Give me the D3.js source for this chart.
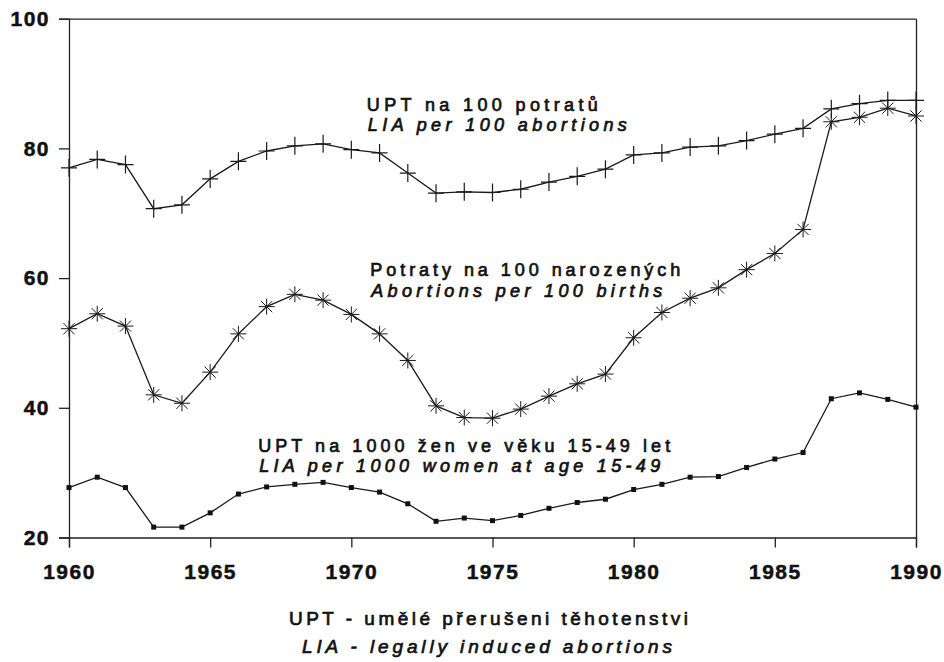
<!DOCTYPE html>
<html>
<head>
<meta charset="utf-8">
<script src="https://cdn.jsdelivr.net/npm/d3@7"></script>
<style>
  body { margin: 0; background: #fff; }
  svg { display: block; }
  text { font-family: "Liberation Sans", Arial, sans-serif; fill: #111; }
  .tick text { font-size: 21px; font-weight: bold; letter-spacing: 1.5px; stroke: #111; stroke-width: 0.5; }
  .domain, .tick line { stroke: #222; stroke-width: 1.3; }
  .series { fill: none; stroke: #1a1a1a; stroke-width: 1.3; }
  .note { font-size: 18px; stroke: #111; stroke-width: 0.7; }
</style>
</head>
<body>
<div id="chart"></div>
<script>
var years = [1960, 1961, 1962, 1963, 1964, 1965, 1966, 1967, 1968, 1969,
             1970, 1971, 1972, 1973, 1974, 1975, 1976, 1977, 1978, 1979,
             1980, 1981, 1982, 1983, 1984, 1985, 1986, 1987, 1988, 1989, 1990];

// UPT na 100 potratu
var liaPerAbortions = [77.0, 78.3, 77.5, 70.7, 71.3, 75.3, 78.0, 79.6, 80.4, 80.7,
                       79.8, 79.3, 76.2, 73.1, 73.3, 73.2, 73.7, 74.8, 75.7, 76.8,
                       79.0, 79.3, 80.2, 80.4, 81.2, 82.2, 83.1, 86.1, 86.9, 87.4, 87.4];

// potraty na 100 narozenych
var abortionsPerBirths = [52.2, 54.5, 52.6, 42.0, 40.7, 45.5, 51.4, 55.6, 57.5, 56.6,
                          54.4, 51.4, 47.3, 40.3, 38.5, 38.4, 39.8, 41.8, 43.7, 45.2,
                          50.8, 54.7, 56.9, 58.5, 61.3, 63.8, 67.5, 84.1, 84.8, 86.2, 85.0];

// UPT na 1000 zen 15-49
var liaPerWomen = [27.7, 29.3, 27.7, 21.6, 21.6, 23.8, 26.7, 27.8, 28.2, 28.5,
                   27.7, 27.0, 25.2, 22.5, 23.0, 22.6, 23.4, 24.5, 25.4, 25.9,
                   27.4, 28.2, 29.3, 29.4, 30.8, 32.1, 33.1, 41.4, 42.3, 41.3, 40.1];

var xTicks = [1960, 1965, 1970, 1975, 1980, 1985, 1990];
var yTicks = [20, 40, 60, 80, 100];

var labelsCz = ["UPT na 100 potratů", "Potraty na 100 narozených", "UPT na 1000 žen ve věku 15-49 let"];
var labelsEn = ["LIA per 100 abortions", "Abortions per 100 births", "LIA per 1000 women at age 15-49"];
var notes = ["UPT - umělé přerušeni těhotenstvi", "LIA - legally induced abortions"];

var margin = {top: 18.7, right: 28, bottom: 124.5, left: 69};
var W = 944, H = 662;
var width = W - margin.left - margin.right;
var height = H - margin.top - margin.bottom;

var svg = d3.select('#chart').append('svg')
  .attr('width', W)
  .attr('height', H);

var g = svg.append('g')
  .attr('transform', 'translate(' + margin.left + ',' + margin.top + ')');

var x = d3.scaleLinear().domain([1960, 1990]).range([0, width]);
var y = d3.scaleLinear().domain([20, 100]).range([height, 0]);

// frame
g.append('g')
  .attr('transform', 'translate(0,' + height + ')')
  .call(d3.axisBottom(x).tickValues(xTicks).tickFormat(d3.format('d')).tickSize(10).tickPadding(17));
g.append('g')
  .call(d3.axisLeft(y).tickValues(yTicks).tickSize(10).tickPadding(9));
g.append('g')
  .call(d3.axisTop(x).tickValues([]).tickSizeOuter(0));
g.append('g')
  .attr('transform', 'translate(' + width + ',0)')
  .call(d3.axisRight(y).tickValues([]).tickSizeOuter(0));

var line = d3.line()
  .x((d, i) => x(years[i]))
  .y((d) => y(d));

// plus markers
g.append('path').attr('class', 'series').attr('d', line(liaPerAbortions));
g.append('g').selectAll('path')
  .data(liaPerAbortions)
  .enter().append('path')
    .attr('class', 'series')
    .attr('transform', (d, i) => 'translate(' + x(years[i]) + ',' + y(d) + ')')
    .attr('d', 'M-8,0H8M0,-9V9')
    .style('stroke-width', 1.2);

// asterisk markers
g.append('path').attr('class', 'series').attr('d', line(abortionsPerBirths));
g.append('g').selectAll('path')
  .data(abortionsPerBirths)
  .enter().append('path')
    .attr('class', 'series')
    .attr('transform', (d, i) => 'translate(' + x(years[i]) + ',' + y(d) + ')')
    .attr('d', 'M-8,0H8M0,-8V8M-5.6,-5.6L5.6,5.6M-5.6,5.6L5.6,-5.6')
    .style('stroke-width', 1);

// square markers
g.append('path').attr('class', 'series').attr('d', line(liaPerWomen));
g.append('g').selectAll('rect')
  .data(liaPerWomen)
  .enter().append('rect')
    .attr('x', (d, i) => x(years[i]) - 2.5)
    .attr('y', (d) => y(d) - 2.5)
    .attr('width', 5)
    .attr('height', 5)
    .style('fill', '#111');

// series labels, anchored in data units
var anchors = [
  {year: 1970.55, cz: 85.8, en: 82.7, w1: 231, w2: 259},
  {year: 1970.67, cz: 60.3, en: 57.1, w1: 310, w2: 291},
  {year: 1966.7,  cz: 33.2, en: 30.05, w1: 412, w2: 401}
];

anchors.forEach((a, i) => {
  g.append('text')
    .attr('class', 'note')
    .attr('x', x(a.year))
    .attr('y', y(a.cz))
    .attr('textLength', a.w1)
    .attr('lengthAdjust', 'spacing')
    .text(labelsCz[i]);
  g.append('text')
    .attr('class', 'note')
    .attr('x', x(a.year) + 1)
    .attr('y', y(a.en))
    .attr('textLength', a.w2)
    .attr('lengthAdjust', 'spacing')
    .style('font-style', 'italic')
    .text(labelsEn[i]);
});

// footnote
svg.append('text')
  .attr('class', 'note')
  .attr('x', 289)
  .attr('y', 625)
  .attr('textLength', 399)
  .attr('lengthAdjust', 'spacing')
  .style('font-size', '19px')
  .text(notes[0]);
svg.append('text')
  .attr('class', 'note')
  .attr('x', 302)
  .attr('y', 653)
  .attr('textLength', 370)
  .attr('lengthAdjust', 'spacing')
  .style('font-size', '19px')
  .style('font-style', 'italic')
  .text(notes[1]);
</script>
</body>
</html>
